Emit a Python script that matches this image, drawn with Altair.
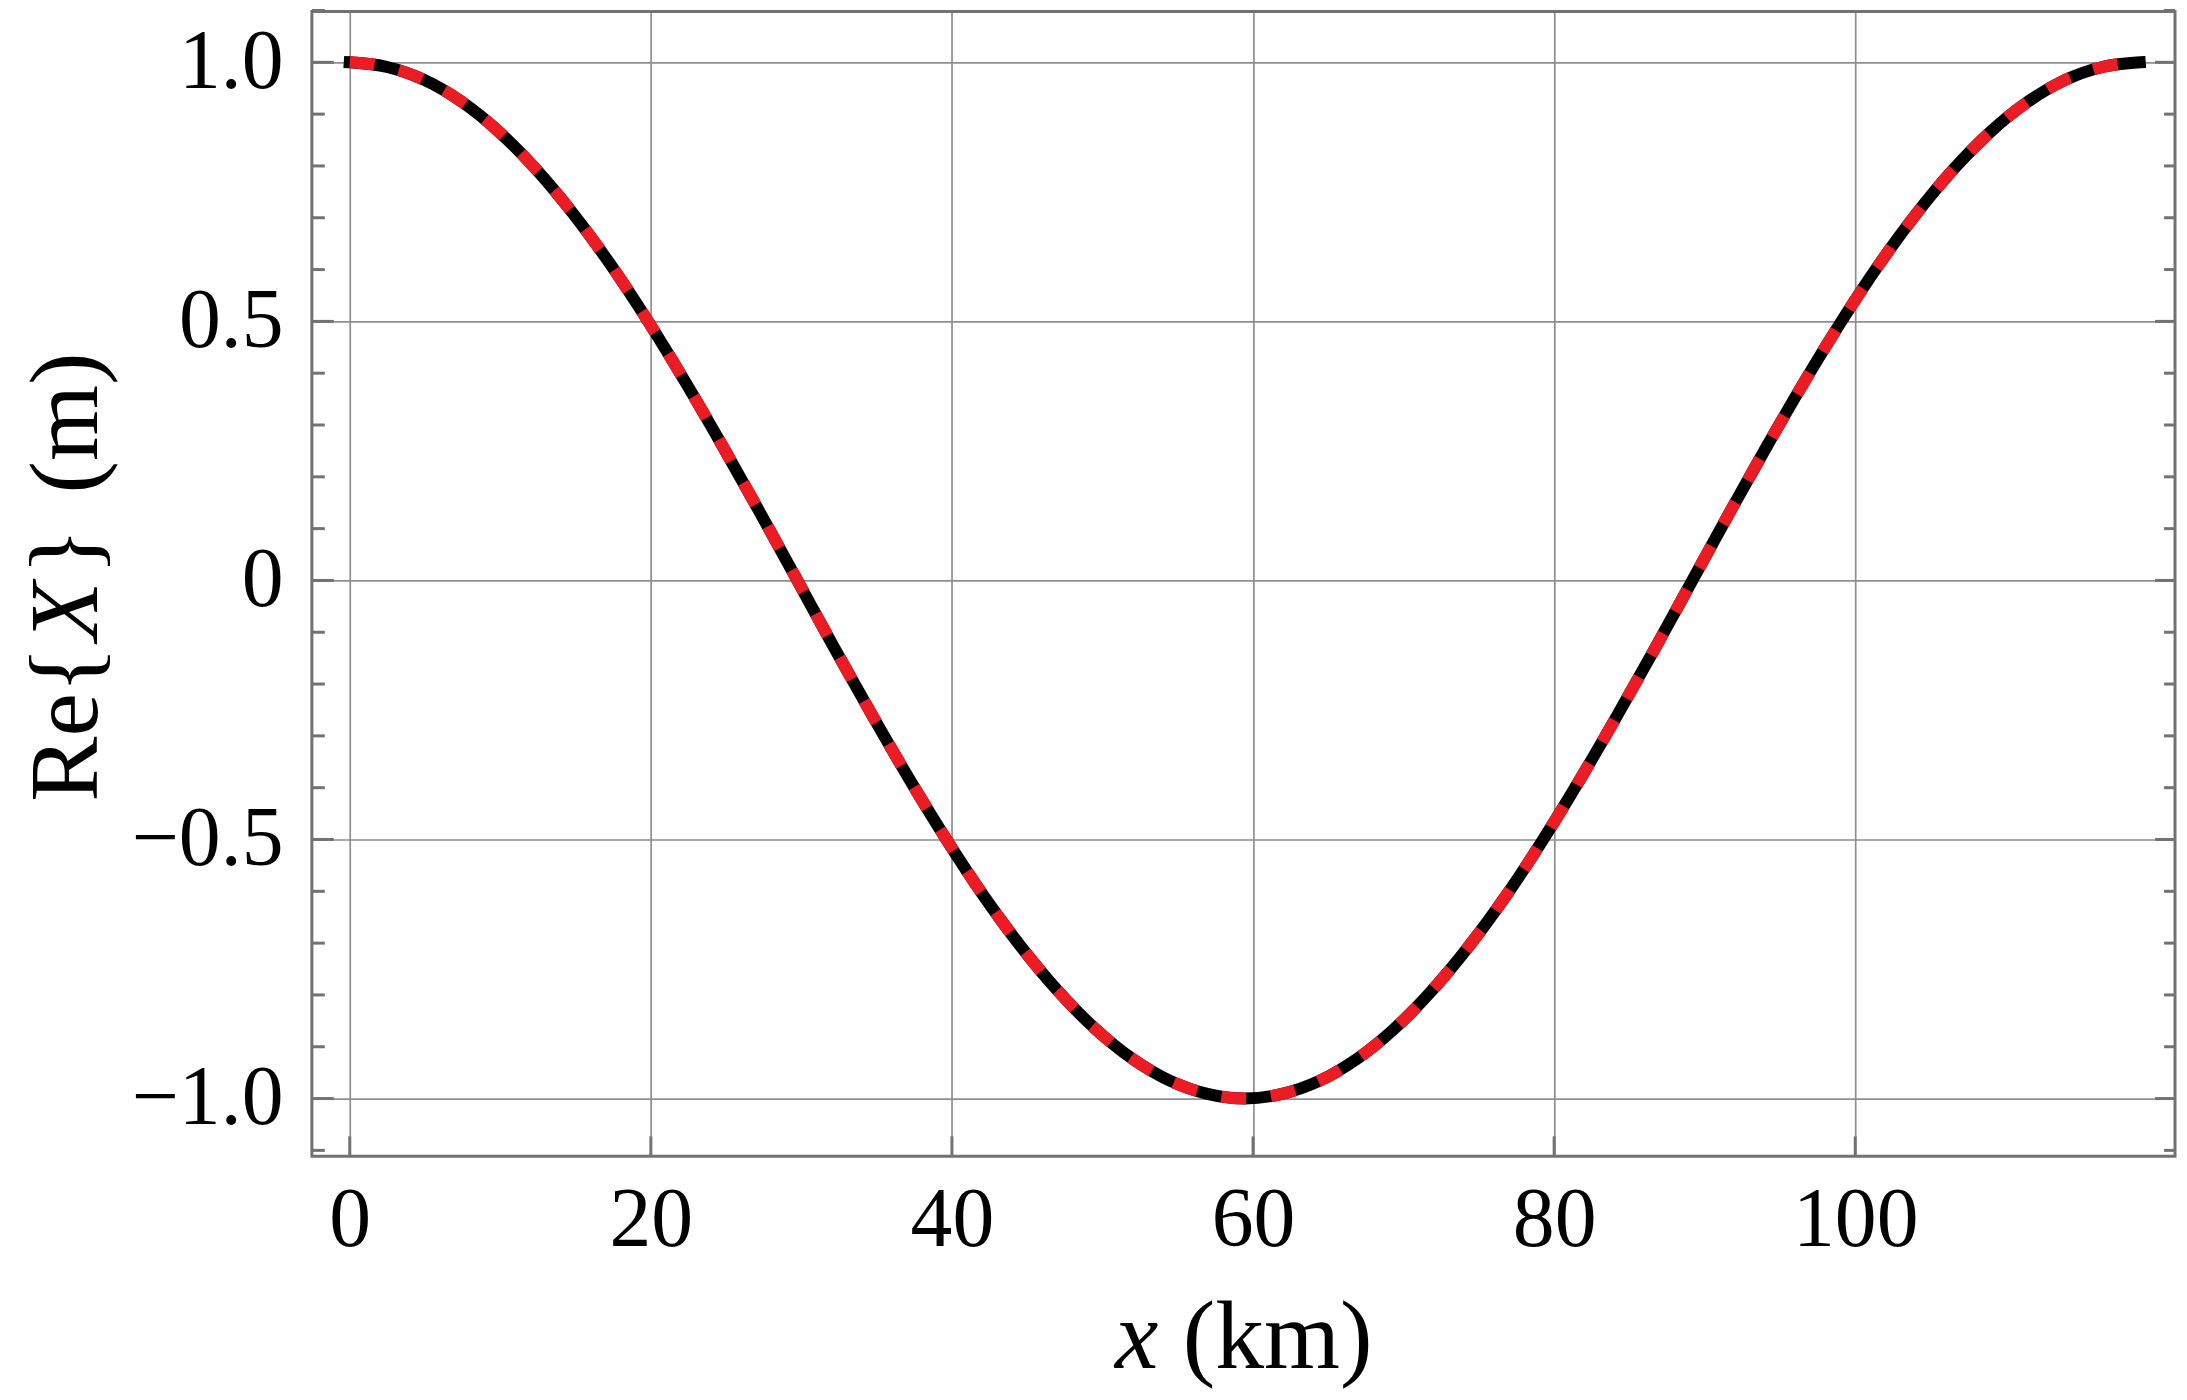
import altair as alt
import pandas as pd

# ---- data ----
x_km = [0, 2.48, 4.95, 7.43, 9.91, 12.39, 14.86, 17.34, 19.82, 22.29, 24.77, 27.25,
        29.73, 32.2, 34.68, 37.16, 39.63, 42.11, 44.59, 47.06, 49.54, 52.02, 54.5, 56.97,
        59.45, 61.93, 64.4, 66.88, 69.36, 71.84, 74.31, 76.79, 79.27, 81.74, 84.22, 86.7,
        89.18, 91.65, 94.13, 96.61, 99.08, 101.56, 104.04, 106.51, 108.99, 111.47,
        113.95, 116.42, 118.9]
re_x = [1.0, 0.991, 0.966, 0.924, 0.866, 0.793, 0.707, 0.609, 0.5, 0.383, 0.259, 0.131,
        0.0, -0.131, -0.259, -0.383, -0.5, -0.609, -0.707, -0.793, -0.866, -0.924, -0.966,
        -0.991, -1.0, -0.991, -0.966, -0.924, -0.866, -0.793, -0.707, -0.609, -0.5, -0.383,
        -0.259, -0.131, 0.0, 0.131, 0.259, 0.383, 0.5, 0.609, 0.707, 0.793, 0.866, 0.924,
        0.966, 0.991, 1.0]

x_ticks = [0, 20, 40, 60, 80, 100]
y_major = [-1.0, -0.5, 0.0, 0.5, 1.0]
y_minor = [-1.1, -0.9, -0.8, -0.7, -0.6, -0.4, -0.3, -0.2, -0.1,
           0.1, 0.2, 0.3, 0.4, 0.6, 0.7, 0.8, 0.9, 1.1]

x_title_parts = ["x", "(km)"]
y_title_parts = ["Re{", "X", "}", "(m)"]

# ---- layout ----
W, H = 1870, 1149
FONT = "Liberation Serif"
FRAME = "#727272"
GRID = "#8e8e8e"
RED = "#ec1c24"
TFS = 98

x_scale = alt.Scale(domain=[-2.515, 121.24], zero=False, nice=False)
y_scale = alt.Scale(domain=[-1.1115, 1.098], zero=False, nice=False)

x_axis = alt.Axis(values=x_ticks, grid=True, gridColor=GRID, gridWidth=1.7,
                  domain=False, ticks=False, tickSize=0, labelFont=FONT,
                  labelFontSize=84, labelColor="black", labelPadding=23,
                  format="d", labelFlush=False, labelOverlap=False)
y_axis = alt.Axis(values=y_major, grid=True, gridColor=GRID, gridWidth=1.7,
                  domain=False, ticks=False, tickSize=0, labelFont=FONT,
                  labelFontSize=84, labelColor="black", labelPadding=29,
                  labelExpr="datum.value == 0 ? '0' : replace(format(datum.value, '.1f'), '-', '\u2212')",
                  labelFlush=False, labelOverlap=False)


def X():
    return alt.X("x:Q", scale=x_scale, axis=x_axis, title="")


def Y():
    return alt.Y("y:Q", scale=y_scale, axis=y_axis, title="")


curve = pd.DataFrame({"x": x_km, "y": re_x})

black = alt.Chart(curve).mark_line(color="black", strokeWidth=12, strokeCap="square",
                                   interpolate="monotone").encode(x=X(), y=Y())
red = alt.Chart(curve).mark_line(color=RED, strokeWidth=12, strokeCap="butt",
                                 strokeDash=[25, 25], interpolate="monotone").encode(x=X(), y=Y())

ymaj = pd.DataFrame({"y": y_major})
ymin = pd.DataFrame({"y": y_minor})
xt = pd.DataFrame({"x": x_ticks})


def yticks(df, x0, x1):
    return alt.Chart(df).mark_rule(color=FRAME, strokeWidth=3).encode(
        y=Y(), x=alt.value(x0), x2=alt.value(x1))


frame = alt.Chart(pd.DataFrame({"f": [0]})).mark_rect(
    fill=None, fillOpacity=0, stroke=FRAME, strokeWidth=3).encode(
    x=alt.value(0), x2=alt.value(W), y=alt.value(0), y2=alt.value(H))

tick_layers = [
    yticks(ymaj, 0, 22), yticks(ymin, 0, 13),
    yticks(ymaj, W - 20, W), yticks(ymin, W - 11, W),
    alt.Chart(xt).mark_rule(color=FRAME, strokeWidth=3).encode(
        x=X(), y=alt.value(H - 20), y2=alt.value(H)),
]


def txt(s, x, y, italic=False, angle=0):
    kw = dict(font=FONT, fontSize=TFS, align="left", baseline="alphabetic", color="black")
    if italic:
        kw["fontStyle"] = "italic"
    if angle:
        kw["angle"] = angle
    return alt.Chart(pd.DataFrame({"t": [s]})).mark_text(**kw).encode(
        text="t:N", x=alt.value(x), y=alt.value(y))


# x title: italic x + (km)
xx0 = 806
x_titles = [
    txt(x_title_parts[0], xx0, 1361, italic=True),
    txt(x_title_parts[1], xx0 + 0.694 * TFS, 1361),
]

# y title: Re{ X } (m), rotated, reading upward
YB = -216
y0 = 793
yA = y0
yB_ = yA - 1.591 * TFS - 5
yC = yB_ - 0.611 * TFS - 7
yD = yC - 0.48 * TFS - 0.25 * TFS - 10
y_titles = [
    txt(y_title_parts[0], YB, yA, angle=270),
    txt(y_title_parts[1], YB, yB_, italic=True, angle=270),
    txt(y_title_parts[2], YB, yC, angle=270),
    txt(y_title_parts[3], YB, yD, angle=270),
]

chart = alt.layer(black, red, *tick_layers, frame, *x_titles, *y_titles).properties(
    width=W, height=H,
    autosize=alt.AutoSizeParams(type="none"),
    padding={"left": 305, "top": 1, "right": 4, "bottom": 240},
    background="white",
).configure(font=FONT).configure_view(stroke=None)

chart.save("out.html", embed_options={"renderer": "svg", "actions": False})
